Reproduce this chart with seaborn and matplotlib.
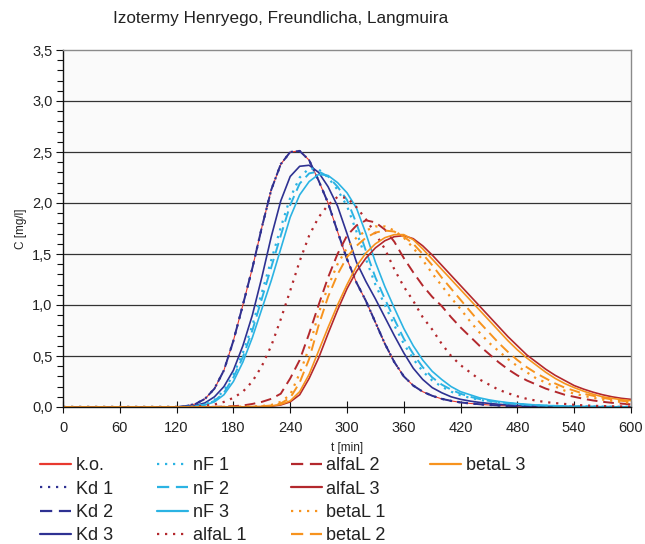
import matplotlib
matplotlib.use("Agg")
import matplotlib.pyplot as plt
import seaborn as sns
import pandas as pd
from matplotlib.lines import Line2D
from matplotlib.ticker import MultipleLocator, FixedLocator

# ---- data (t in min, C in mg/l) ----
t_min = list(range(0, 601, 10))
lead = [0.0] * 12  # t = 0..110

ko = lead + [0.0, 0.01, 0.03, 0.08, 0.18, 0.36, 0.65, 1.0, 1.36, 1.76,
             2.13, 2.38, 2.5, 2.51, 2.42, 2.22, 2.0, 1.72, 1.45, 1.22,
             1.04, 0.83, 0.62, 0.44, 0.3, 0.21, 0.15, 0.11, 0.08, 0.06,
             0.045, 0.035, 0.027, 0.02, 0.015, 0.011, 0.008, 0.006, 0.004, 0.003,
             0.002, 0.002, 0.001, 0.001, 0.001, 0, 0, 0, 0]
kd1 = list(ko)
kd2 = list(ko)
kd3 = lead + [0, 0.005, 0.015, 0.04, 0.1, 0.2, 0.36, 0.6, 0.9, 1.27,
              1.67, 2.02, 2.26, 2.36, 2.37, 2.3, 2.16, 1.97, 1.7, 1.42,
              1.23, 1.06, 0.88, 0.7, 0.53, 0.38, 0.27, 0.19, 0.14, 0.1,
              0.075, 0.058, 0.045, 0.035, 0.027, 0.02, 0.015, 0.011, 0.008, 0.006,
              0.004, 0.003, 0.002, 0.002, 0.001, 0.001, 0.001, 0, 0]
nf1 = lead + [0, 0.003, 0.01, 0.03, 0.07, 0.16, 0.32, 0.53, 0.8, 1.12,
              1.44, 1.76, 2.05, 2.25, 2.34, 2.33, 2.25, 2.13, 1.97, 1.72,
              1.45, 1.2, 1.0, 0.8, 0.62, 0.47, 0.35, 0.26, 0.2, 0.15,
              0.115, 0.09, 0.07, 0.055, 0.043, 0.034, 0.027, 0.021, 0.016, 0.012,
              0.009, 0.007, 0.005, 0.004, 0.003, 0.002, 0.002, 0.001, 0.001]
nf2 = lead + [0, 0.002, 0.008, 0.025, 0.06, 0.14, 0.29, 0.49, 0.75, 1.06,
              1.37, 1.68, 1.98, 2.19, 2.29, 2.31, 2.26, 2.16, 2.03, 1.8,
              1.53, 1.27, 1.06, 0.86, 0.67, 0.52, 0.39, 0.29, 0.22, 0.17,
              0.13, 0.1, 0.078, 0.06, 0.047, 0.037, 0.029, 0.022, 0.017, 0.013,
              0.01, 0.008, 0.006, 0.004, 0.003, 0.002, 0.002, 0.001, 0.001]
nf3 = lead + [0, 0.002, 0.006, 0.02, 0.05, 0.12, 0.25, 0.44, 0.68, 0.96,
              1.24, 1.55, 1.86, 2.08, 2.21, 2.28, 2.27, 2.2, 2.1, 1.95,
              1.7, 1.42, 1.18, 0.97, 0.77, 0.6, 0.46, 0.35, 0.27, 0.2,
              0.15, 0.12, 0.09, 0.07, 0.055, 0.043, 0.034, 0.026, 0.02, 0.015,
              0.012, 0.009, 0.007, 0.005, 0.004, 0.003, 0.002, 0.002, 0.001]
alfa1 = lead + [0, 0.002, 0.005, 0.012, 0.025, 0.05, 0.09, 0.15, 0.25, 0.4,
                0.6, 0.86, 1.14, 1.43, 1.68, 1.86, 1.98, 2.06, 2.05, 1.96,
                1.84, 1.7, 1.55, 1.35, 1.18, 1.04, 0.88, 0.76, 0.62, 0.5,
                0.41, 0.34, 0.27, 0.22, 0.17, 0.135, 0.105, 0.08, 0.062, 0.048,
                0.038, 0.03, 0.022, 0.016, 0.012, 0.009, 0.007, 0.005, 0.004]
alfa2 = lead + [0, 0, 0, 0.001, 0.002, 0.004, 0.008, 0.015, 0.03, 0.05,
                0.08, 0.13, 0.28, 0.46, 0.72, 1.0, 1.27, 1.5, 1.68, 1.78,
                1.83, 1.81, 1.74, 1.62, 1.46, 1.32, 1.19, 1.08, 0.99, 0.88,
                0.78, 0.69, 0.6, 0.52, 0.44, 0.37, 0.31, 0.26, 0.22, 0.18,
                0.15, 0.12, 0.1, 0.08, 0.064, 0.051, 0.041, 0.033, 0.026]
alfa3 = lead + [0, 0, 0, 0, 0, 0, 0, 0.001, 0.001, 0.003,
                0.008, 0.02, 0.05, 0.12, 0.28, 0.48, 0.72, 0.95, 1.16, 1.33,
                1.46, 1.56, 1.63, 1.67, 1.68, 1.65, 1.58, 1.49, 1.39, 1.29,
                1.19, 1.09, 0.99, 0.89, 0.79, 0.69, 0.6, 0.51, 0.44, 0.37,
                0.31, 0.26, 0.21, 0.175, 0.145, 0.12, 0.1, 0.085, 0.075]
beta1 = lead + [0, 0, 0, 0, 0.001, 0.002, 0.003, 0.004, 0.005, 0.01,
                0.02, 0.05, 0.12, 0.33, 0.58, 0.92, 1.18, 1.4, 1.56, 1.66,
                1.73, 1.77, 1.77, 1.73, 1.66, 1.56, 1.44, 1.31, 1.19, 1.07,
                0.96, 0.84, 0.73, 0.63, 0.55, 0.47, 0.4, 0.34, 0.28, 0.24,
                0.2, 0.16, 0.13, 0.11, 0.09, 0.073, 0.06, 0.049, 0.04]
beta2 = lead + [0, 0, 0, 0, 0, 0.001, 0.002, 0.003, 0.003, 0.007,
                0.015, 0.035, 0.09, 0.24, 0.47, 0.8, 1.08, 1.3, 1.47, 1.58,
                1.66, 1.71, 1.73, 1.72, 1.67, 1.6, 1.5, 1.39, 1.27, 1.16,
                1.05, 0.94, 0.83, 0.73, 0.63, 0.54, 0.46, 0.39, 0.33, 0.28,
                0.23, 0.19, 0.16, 0.13, 0.11, 0.09, 0.074, 0.061, 0.05]
beta3 = lead + [0, 0, 0, 0, 0, 0, 0.001, 0.001, 0.002, 0.005,
                0.01, 0.025, 0.06, 0.15, 0.32, 0.55, 0.78, 1.0, 1.2, 1.38,
                1.51, 1.6, 1.66, 1.69, 1.69, 1.64, 1.55, 1.45, 1.35, 1.25,
                1.15, 1.05, 0.95, 0.85, 0.75, 0.65, 0.56, 0.48, 0.41, 0.34,
                0.28, 0.23, 0.19, 0.155, 0.125, 0.1, 0.085, 0.072, 0.062]

series_labels = ["k.o.", "Kd 1", "Kd 2", "Kd 3", "nF 1", "nF 2", "nF 3",
                 "alfaL 1", "alfaL 2", "alfaL 3", "betaL 1", "betaL 2", "betaL 3"]
series_values = [ko, kd1, kd2, kd3, nf1, nf2, nf3, alfa1, alfa2, alfa3, beta1, beta2, beta3]
x_ticks = [0, 60, 120, 180, 240, 300, 360, 420, 480, 540, 600]
y_ticks = [0.0, 0.5, 1.0, 1.5, 2.0, 2.5, 3.0, 3.5]

# ---- styles ----
RED = "#e8392f"
NAVY = "#2e3192"
CYAN = "#2bb3e3"
DRED = "#b3282d"
ORANGE = "#f7931e"
DOT = (0, (1.0, 2.6))
DASH = (0, (5.5, 3.0))
styles = {
    "k.o.": (RED, "-", 0.8),
    "Kd 1": (NAVY, DOT, 1.6), "Kd 2": (NAVY, DASH, 1.4), "Kd 3": (NAVY, "-", 1.2),
    "nF 1": (CYAN, DOT, 1.6), "nF 2": (CYAN, DASH, 1.4), "nF 3": (CYAN, "-", 1.2),
    "alfaL 1": (DRED, DOT, 1.6), "alfaL 2": (DRED, DASH, 1.4), "alfaL 3": (DRED, "-", 1.2),
    "betaL 1": (ORANGE, DOT, 1.6), "betaL 2": (ORANGE, DASH, 1.4), "betaL 3": (ORANGE, "-", 1.2),
}

rows = []
for lab, vals in zip(series_labels, series_values):
    for tt, cc in zip(t_min, vals):
        rows.append({"t": tt, "C": cc, "series": lab})
df = pd.DataFrame(rows)

sns.set_theme(style="white")
plt.rcParams["font.family"] = ["Liberation Sans", "DejaVu Sans"]

fig = plt.figure(figsize=(6.45, 5.44), dpi=100)
ax = fig.add_axes([63 / 645, 1 - 407 / 544, (631 - 63) / 645, (407 - 50) / 544])
ax.set_facecolor("#fafafa")

handles = []
for lab in series_labels:
    col, ls, lw = styles[lab]
    sub = df[df["series"] == lab]
    sns.lineplot(data=sub, x="t", y="C", ax=ax, color=col, linestyle=ls,
                 linewidth=lw, legend=False, estimator=None, sort=False)
    handles.append(Line2D([], [], color=col, linestyle=ls, linewidth=max(lw, 1.6), label=lab))

ax.set_xlim(0, 600)
ax.set_ylim(0, 3.5)
ax.xaxis.set_major_locator(FixedLocator(x_ticks))
ax.set_xticklabels([str(v) for v in x_ticks])
ax.yaxis.set_major_locator(FixedLocator(y_ticks))
ax.yaxis.set_minor_locator(MultipleLocator(0.1))
ax.set_yticklabels([f"{v:.1f}".replace(".", ",") for v in y_ticks])

for yv in y_ticks[1:-1]:
    ax.axhline(yv, color="#333333", lw=0.9, zorder=0.5)

for side in ["top", "right"]:
    ax.spines[side].set_color("#8a8a8a")
    ax.spines[side].set_linewidth(1.0)
for side in ["left", "bottom"]:
    ax.spines[side].set_color("#111111")
    ax.spines[side].set_linewidth(1.0)

ax.tick_params(axis="x", which="major", direction="inout", length=8, width=0.8,
               colors="#111111", labelsize=10.5, pad=6, bottom=True)
ax.tick_params(axis="y", which="major", direction="out", length=5, width=0.8,
               colors="#111111", labelsize=10.5, pad=2.5, left=True)
ax.tick_params(axis="y", which="minor", direction="out", length=4, width=0.8,
               colors="#111111", left=True)
for lbl in ax.get_xticklabels() + ax.get_yticklabels():
    lbl.set_color("#222222")

ax.set_xlabel("t [min]", fontsize=8.5, color="#222222", labelpad=5)
ax.set_ylabel("C [mg/l]", fontsize=8.5, color="#222222", labelpad=4)

fig.text(281 / 645, 1 - 18 / 544, "Izotermy Henryego, Freundlicha, Langmuira",
         ha="center", va="center", fontsize=12.3, color="#222222")

blank = [Line2D([], [], alpha=0, label=" ") for _ in range(3)]
leg = fig.legend(handles=handles + blank, loc="upper left",
                 bbox_to_anchor=(40 / 645, 1 - 457 / 544), ncol=4, frameon=False,
                 fontsize=13, handlelength=1.73, handletextpad=0.25,
                 columnspacing=2.45, labelspacing=0.36, borderaxespad=0, borderpad=0)
for txt in leg.get_texts():
    txt.set_color("#222222")

fig.savefig("out.png", dpi=100, facecolor="white")
